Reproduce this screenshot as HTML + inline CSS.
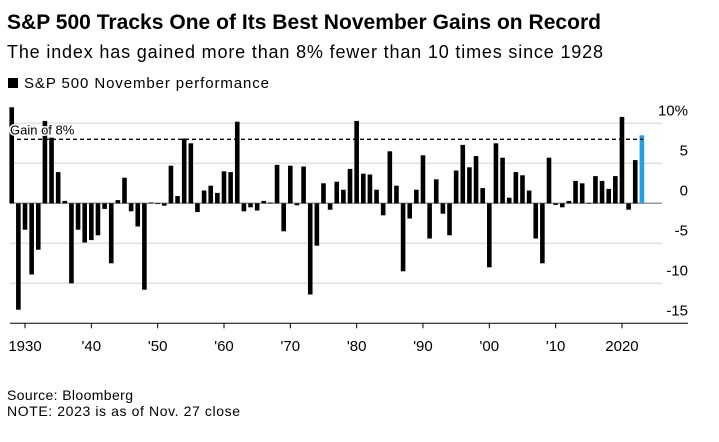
<!DOCTYPE html>
<html><head><meta charset="utf-8"><style>
body{margin:0;background:#fff;width:719px;height:437px;overflow:hidden;font-family:"Liberation Sans",Arial,sans-serif;}
</style></head><body>
<svg width="719" height="437" xmlns="http://www.w3.org/2000/svg" style="font-family:'Liberation Sans',Arial,sans-serif">
<text x="7" y="29" font-size="21" font-weight="bold" fill="#000" textLength="594">S&amp;P 500 Tracks One of Its Best November Gains on Record</text>
<text x="7" y="58" font-size="18" fill="#000" textLength="596">The index has gained more than 8% fewer than 10 times since 1928</text>
<rect x="8" y="78" width="10" height="10" fill="#000"/>
<text x="24" y="88" font-size="15" fill="#000" textLength="245">S&amp;P 500 November performance</text>
<g id="grid"></g>
<g id="bars"></g>
<g id="xaxis"></g>
<g id="yaxis"></g>
<text x="7" y="400" font-size="14" fill="#000" textLength="126">Source: Bloomberg</text>
<text x="7" y="416" font-size="14" fill="#000" textLength="233">NOTE: 2023 is as of Nov. 27 close</text>
</svg>
<script>
const firstYear = 1928;
const values = [12.0,-13.3,-3.3,-8.9,-5.8,10.3,8.2,3.9,0.3,-10.0,-3.3,-4.9,-4.6,-4.0,-0.7,-7.5,0.4,3.2,-1.0,-2.9,-10.8,0.1,-0.1,-0.3,4.7,0.9,8.1,7.5,-1.1,1.6,2.2,1.3,4.0,3.9,10.2,-1.0,-0.5,-0.9,0.3,0.1,4.8,-3.5,4.7,-0.25,4.6,-11.4,-5.3,2.5,-0.8,2.7,1.7,4.3,10.3,3.7,3.6,1.7,-1.5,6.5,2.2,-8.5,-1.9,1.7,6.0,-4.4,3.0,-1.3,-4.0,4.1,7.3,4.5,5.9,1.9,-8.0,7.5,5.7,0.7,3.9,3.5,1.6,-4.4,-7.5,5.7,-0.2,-0.5,0.3,2.8,2.5,0.05,3.4,2.8,1.8,3.4,10.8,-0.8,5.4,8.5];
const yTicks = [10,5,0,-5,-10,-15];
const yTickLabels = ["10%","5","0","-5","-10","-15"];
const xTicks = [1930,1940,1950,1960,1970,1980,1990,2000,2010,2020];
const xTickLabels = ["1930","'40","'50","'60","'70","'80","'90","'00","'10","2020"];
const threshold = 8;
const ns="http://www.w3.org/2000/svg";
function x(yr){return 25+(yr-1930)*6.633;}
function y(v){return 203.3-v*8;}
function mk(tag,attrs,parent){const e=document.createElementNS(ns,tag);for(const k in attrs)e.setAttribute(k,attrs[k]);document.getElementById(parent).appendChild(e);return e;}
yTicks.forEach((t,i)=>{
  if(t>-15){const g=mk('line',{x1:10,x2:662,y1:y(t),y2:y(t),stroke:t===0?'#999':'#e0e0e0','stroke-width':1.5},'grid');
  
  }
  const lab=yTickLabels[i];
  const tx=mk('text',{x:688,y:y(t)-8,'font-size':15,fill:'#000','text-anchor':'end'},'yaxis');
  tx.textContent=lab.replace('%','');
  if(lab.endsWith('%')){const p=mk('tspan',{},'yaxis');tx.appendChild(p);p.textContent='%';}
  
  
});
const ax=mk('line',{x1:10,x2:688,y1:y(-15),y2:y(-15),stroke:'#000','stroke-width':1},'xaxis');


values.forEach((v,i)=>{
  const yr=firstYear+i;
  const top=Math.min(y(v),y(0)),h=Math.max(Math.abs(y(v)-y(0)),0.6);
  const r=mk('rect',{x:x(yr)-2.3,y:top,width:4.6,height:h,fill:yr===2023?'#1aa3ec':'#000'},'bars');
  
  
});
const th=mk('line',{x1:10,x2:643,y1:y(threshold),y2:y(threshold),stroke:'#000','stroke-width':1.3,'stroke-dasharray':'4,3'},'bars');


const tl=mk('text',{x:10,y:y(threshold)-5,'font-size':13,fill:'#000',stroke:'#fff','stroke-width':3,'paint-order':'stroke'},'bars');
tl.textContent='Gain of 8%';


xTicks.forEach((t,i)=>{
  const tk=mk('line',{x1:x(t),x2:x(t),y1:y(-15),y2:y(-15)+5,stroke:'#000'},'xaxis');
  
  
  const tx=mk('text',{x:x(t),y:351,'font-size':15,fill:'#000','text-anchor':'middle'},'xaxis');
  tx.textContent=xTickLabels[i];
  
  
});
</script>
</body></html>
